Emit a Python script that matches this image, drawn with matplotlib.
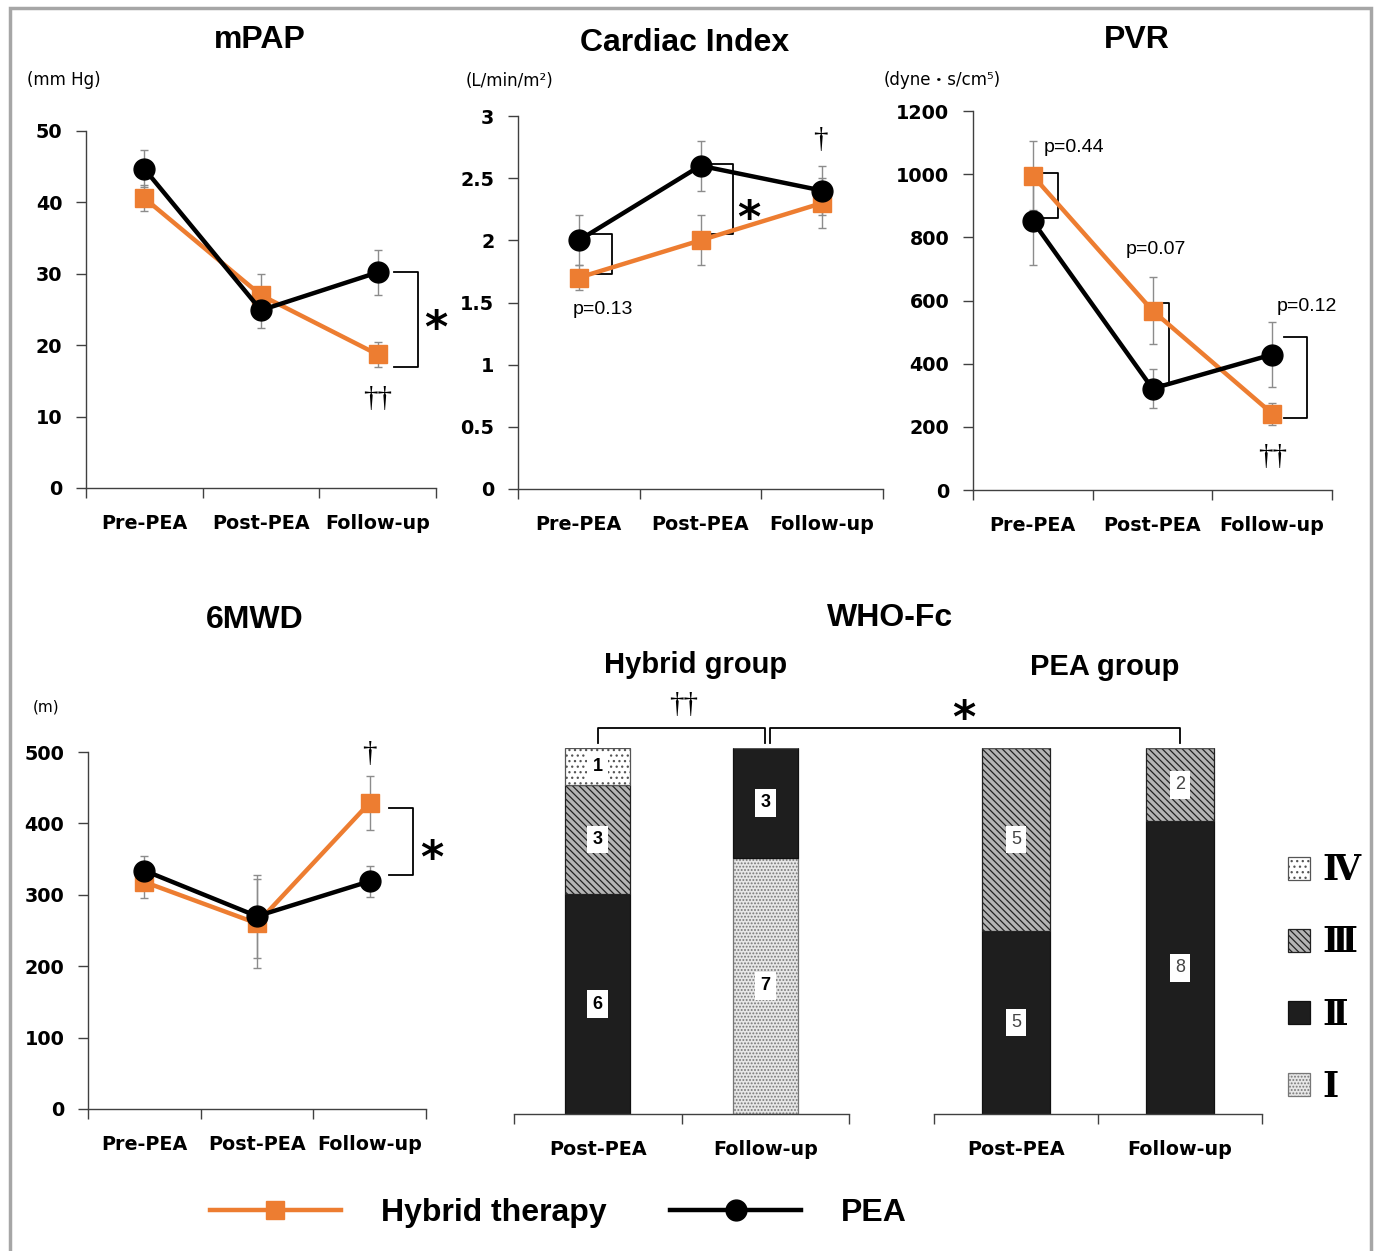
import numpy as np
import matplotlib.pyplot as plt
from matplotlib.patches import Rectangle
from matplotlib.lines import Line2D
from matplotlib.font_manager import FontProperties

# ---- data ----
cats = ['Pre-PEA', 'Post-PEA', 'Follow-up']

mpap_hyb = [40.6, 27.0, 18.7]
mpap_hyb_err = [1.8, 3.0, 1.7]
mpap_pea = [44.7, 24.9, 30.2]
mpap_pea_err = [2.6, 2.5, 3.2]

ci_hyb = [1.7, 2.0, 2.3]
ci_hyb_err = [0.1, 0.2, 0.2]
ci_pea = [2.0, 2.6, 2.4]
ci_pea_err = [0.2, 0.2, 0.2]

pvr_hyb = [995, 568, 242]
pvr_hyb_err = [110, 105, 35]
pvr_pea = [851, 321, 429]
pvr_pea_err = [138, 62, 102]

mwd_hyb = [318, 260, 429]
mwd_hyb_err = [23, 62, 38]
mwd_pea = [334, 270, 319]
mwd_pea_err = [20, 58, 22]

who_cats = ['Post-PEA', 'Follow-up']
who_classes = ['Ⅰ', 'Ⅱ', 'Ⅲ', 'Ⅳ']
hyb_I = [0, 7]
hyb_II = [6, 3]
hyb_III = [3, 0]
hyb_IV = [1, 0]
pea_I = [0, 0]
pea_II = [5, 8]
pea_III = [5, 2]
pea_IV = [0, 0]

# ---- style ----
W, H = 1375, 1251
ORANGE = '#ED7D31'
ERR = '#8c8c8c'
SPINE = '#404040'
plt.rcParams['hatch.linewidth'] = 0.9

fig = plt.figure(figsize=(W / 100, H / 100), dpi=100)


def box(l, t, r, b):
    return [l / W, 1 - b / H, (r - l) / W, (b - t) / H]


def ftext(x, y, s, **kw):
    fig.text(x / W, 1 - y / H, s, **kw)


tickfont = FontProperties(family='DejaVu Sans', weight='bold', size=13.8)


def setup(ax, labels, ymax=None, ystep=None):
    n = len(labels)
    ax.set_xlim(-0.5, n - 0.5)
    for s in ['top', 'right']:
        ax.spines[s].set_visible(False)
    for s in ['left', 'bottom']:
        ax.spines[s].set_color(SPINE)
        ax.spines[s].set_linewidth(1)
    ax.set_xticks(range(n))
    ax.set_xticklabels(labels, fontproperties=tickfont)
    ax.set_xticks(np.arange(n + 1) - 0.5, minor=True)
    ax.tick_params(axis='x', which='major', length=0, pad=19)
    ax.tick_params(axis='x', which='minor', length=7, width=1, color=SPINE)
    if ymax is None:
        ax.spines['left'].set_visible(False)
        ax.set_yticks([])
    else:
        ax.set_ylim(0, ymax)
        ax.set_yticks(np.arange(0, ymax + ystep / 2, ystep))
        ax.yaxis.set_major_formatter(plt.FuncFormatter(lambda v, _: f'{v:g}'))
        for t in ax.get_yticklabels():
            t.set_fontproperties(tickfont)
        ax.tick_params(axis='y', length=7, width=1, color=SPINE, pad=10)


def bracket(ax, x0, x1, ytop, ybot):
    ax.plot([x0, x1, x1, x0], [ytop, ytop, ybot, ybot], color='black',
            lw=1.3, zorder=1, clip_on=False)


def star(ax, x, y):
    ax.annotate('*', (x, y), xytext=(0, -11), textcoords='offset points',
                ha='center', va='center', fontsize=32, weight='bold',
                family='DejaVu Sans', annotation_clip=False)


def dagger(ax, x, y, s):
    ax.text(x, y, s, ha='center', va='center', fontsize=21,
            family='Liberation Serif', clip_on=False)


def ptext(ax, x, y, s):
    ax.text(x, y, s, ha='center', va='center', fontsize=14,
            family='Liberation Sans', clip_on=False)


def line_panel(ax, hyb, hyb_err, pea, pea_err):
    x = np.arange(len(cats))
    ax.errorbar(x, hyb, yerr=hyb_err, fmt='none', ecolor=ERR, elinewidth=1,
                capsize=3, capthick=1, zorder=1.5)
    ax.errorbar(x, pea, yerr=pea_err, fmt='none', ecolor=ERR, elinewidth=1,
                capsize=3, capthick=1, zorder=1.5)
    h1, = ax.plot(x, hyb, color=ORANGE, lw=3.2, marker='s', ms=12.5,
                  mec=ORANGE, zorder=2, clip_on=False)
    h2, = ax.plot(x, pea, color='black', lw=3.2, marker='o', ms=15,
                  zorder=3, clip_on=False)
    return h1, h2


# ---- mPAP ----
ax1 = fig.add_axes(box(86, 131, 436, 488))
setup(ax1, cats, 50, 10)
h_hyb, h_pea = line_panel(ax1, mpap_hyb, mpap_hyb_err, mpap_pea, mpap_pea_err)
bracket(ax1, 2.143, 2.343, 30.2, 17.0)
star(ax1, 2.5, 24.3)
dagger(ax1, 2.0, 12.5, '††')
ftext(260, 40, 'mPAP', ha='center', va='center', fontsize=23,
      weight='bold', family='Liberation Sans')
ftext(27, 80, '(mm Hg)', ha='left', va='center', fontsize=12, family='DejaVu Sans')

# ---- Cardiac Index ----
ax2 = fig.add_axes(box(518, 116, 883, 489))
setup(ax2, cats, 3, 0.5)
line_panel(ax2, ci_hyb, ci_hyb_err, ci_pea, ci_pea_err)
bracket(ax2, 0.0, 0.27, 2.05, 1.73)
bracket(ax2, 1.0, 1.267, 2.61, 2.05)
star(ax2, 1.4, 2.29)
ptext(ax2, 0.196, 1.44, 'p=0.13')
dagger(ax2, 1.985, 2.81, '†')
ftext(685, 43, 'Cardiac Index', ha='center', va='center', fontsize=23,
      weight='bold', family='Liberation Sans')
ftext(466, 81, '(L/min/m²)', ha='left', va='center', fontsize=12, family='DejaVu Sans')

# ---- PVR ----
ax3 = fig.add_axes(box(973, 111, 1332, 490))
setup(ax3, cats, 1200, 200)
line_panel(ax3, pvr_hyb, pvr_hyb_err, pvr_pea, pvr_pea_err)
bracket(ax3, 0.0, 0.207, 1004, 860)
bracket(ax3, 1.0, 1.138, 591, 336)
bracket(ax3, 2.096, 2.291, 484, 229)
ptext(ax3, 0.34, 1086, 'p=0.44')
ptext(ax3, 1.03, 761, 'p=0.07')
ptext(ax3, 2.29, 582, 'p=0.12')
dagger(ax3, 2.0, 106, '††')
ftext(1137, 40, 'PVR', ha='center', va='center', fontsize=23,
      weight='bold', family='Liberation Sans')
ftext(884, 80, '(dyne・s/cm⁵)', ha='left', va='center', fontsize=12,
      family=['DejaVu Sans', 'Noto Sans CJK JP'])

# ---- 6MWD ----
ax4 = fig.add_axes(box(88, 752, 426, 1109))
setup(ax4, cats, 500, 100)
line_panel(ax4, mwd_hyb, mwd_hyb_err, mwd_pea, mwd_pea_err)
bracket(ax4, 2.174, 2.381, 421.7, 327.4)
star(ax4, 2.55, 371)
dagger(ax4, 2.0, 497, '†')
ftext(255, 620, '6MWD', ha='center', va='center', fontsize=23,
      weight='bold', family='Liberation Sans')
ftext(33, 707, '(m)', ha='left', va='center', fontsize=11, family='DejaVu Sans')

# ---- WHO-Fc ----
styles = [
    dict(facecolor='#e6e6e6', hatch='.....', edgecolor='#777777'),
    dict(facecolor='#1e1e1e', hatch=None, edgecolor='#111111'),
    dict(facecolor='#b4b4b4', hatch='\\\\\\\\\\', edgecolor='#222222'),
    dict(facecolor='white', hatch='...', edgecolor='#555555'),
]


def who_panel(ax, series, width, bold):
    x = np.arange(len(who_cats))
    bottom = np.zeros(len(who_cats))
    conts = []
    for vals, st in zip(series, styles):
        vals = np.array(vals, dtype=float)
        c = ax.bar(x, vals, width, bottom=bottom, linewidth=0.9, **st)
        conts.append(c)
        for xi, b, v in zip(x, bottom, vals):
            if v > 0:
                ax.text(xi, b + v / 2, f'{v:g}', ha='center', va='center',
                        fontsize=13, family='Liberation Sans',
                        weight='bold' if bold else 'normal',
                        color='black' if bold else '#444444',
                        bbox=dict(boxstyle='square,pad=0.3', fc='white', ec='none'))
        bottom = bottom + vals
    ax.set_ylim(0, 10)
    return conts


ax5 = fig.add_axes(box(514, 748, 849, 1114))
setup(ax5, who_cats)
who_panel(ax5, [hyb_I, hyb_II, hyb_III, hyb_IV], 0.39, True)

ax6 = fig.add_axes(box(934, 748, 1262, 1114))
setup(ax6, who_cats)
conts = who_panel(ax6, [pea_I, pea_II, pea_III, pea_IV], 0.41, False)

ftext(890, 618, 'WHO-Fc', ha='center', va='center', fontsize=23,
      weight='bold', family='Liberation Sans')
ftext(696, 665, 'Hybrid group', ha='center', va='center', fontsize=21,
      weight='bold', family='Liberation Sans')
ftext(1105, 667, 'PEA group', ha='center', va='center', fontsize=21,
      weight='bold', family='Liberation Sans')

# brackets over bars
ax5.plot([0, 0, 1, 1], [10.15, 10.55, 10.55, 10.15], color='black',
         lw=1.3, clip_on=False)
inv = fig.transFigure.inverted()
pa = inv.transform(ax5.transData.transform((1.03, 10.55)))
pb = inv.transform(ax6.transData.transform((1.0, 10.55)))
pc = inv.transform(ax6.transData.transform((1.0, 10.15)))
pd = inv.transform(ax5.transData.transform((1.03, 10.15)))
fig.add_artist(Line2D([pd[0], pa[0], pb[0], pc[0]], [pd[1], pa[1], pb[1], pc[1]],
                      color='black', lw=1.3, transform=fig.transFigure))
dagger(ax5, 0.515, 11.17, '††')
star(ax6, -0.32, 11.2)

leg = ax6.legend(conts[::-1], who_classes[::-1], loc='center left',
                 bbox_to_anchor=(1.026, 0.37), frameon=False,
                 handlelength=0.65, handleheight=0.65, labelspacing=1.1,
                 handletextpad=0.35, borderpad=0,
                 prop=FontProperties(family=['DejaVu Serif', 'DejaVu Sans', 'Noto Sans CJK JP'],
                                     weight='bold', size=25))

# ---- series legend ----
fig.legend([h_hyb, h_pea], ['Hybrid therapy', 'PEA'], loc='center left',
           bbox_to_anchor=(210 / W, 1 - 1213 / H), ncol=2, frameon=False,
           handlelength=4.1, handletextpad=1.25, columnspacing=2.0,
           borderpad=0, borderaxespad=0, numpoints=1,
           prop=FontProperties(family='Liberation Sans', weight='bold', size=23))

# outer frame
fig.add_artist(Rectangle((10 / W, -0.05), (1371 - 10) / W, 1.05 - 8 / H,
                         transform=fig.transFigure, fill=False,
                         ec='#a6a6a6', lw=2.5))

fig.savefig('out.png', dpi=100)
